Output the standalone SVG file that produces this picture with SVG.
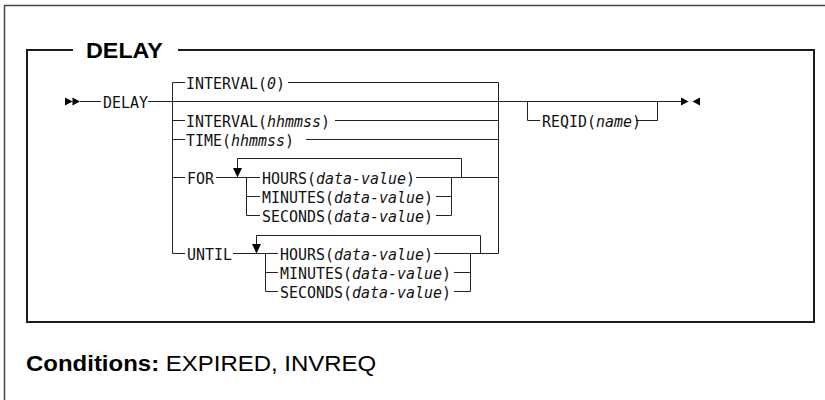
<svg xmlns="http://www.w3.org/2000/svg" width="825" height="400" viewBox="0 0 825 400">
<style>
.frame{fill:none;stroke:#444;stroke-width:1.5}
.inner{fill:none;stroke:#1a1a1a;stroke-width:2}
.ln{fill:none;stroke:#222;stroke-width:1}
.ah{fill:#000;stroke:none}
.t{font-family:"DejaVu Sans Mono","Liberation Mono",monospace;font-size:16px;fill:#111}
.i{font-style:italic}
.title{font-family:"Liberation Sans",Arial,sans-serif;font-size:22px;font-weight:bold;fill:#000}
.cond{font-family:"Liberation Sans",Arial,sans-serif;font-size:22px;fill:#000}
</style>
<rect x="0" y="0" width="825" height="400" fill="#fff"/>
<rect class="frame" x="4.5" y="5.5" width="830" height="410"/>
<path class="inner" d="M73,50 H27 V322 H814 V50 H178"/>
<text class="title" transform="translate(86,58) scale(1.06,1)">DELAY</text>

<g id="connectors">
<path class="ln" d="M80,101.5 H101 M148,101.5 H681"/>
<path class="ln" d="M185,82.5 H172.5 V253.5 H185 M172.5,120.5 H185 M172.5,139.5 H185 M172.5,177.5 H185"/>
<path class="ln" d="M288,82.5 H498.5 V253.5 H480.5 M335,120.5 H498.5 M306,139.5 H498.5 M461.5,177.5 H498.5"/>
<path class="ln" d="M216,177.5 H260 M246.5,177.5 V215.5 H260 M246.5,196.5 H260 M416,177.5 H461.5 V158.5 H237.5 V170 M436,196.5 H451.5 M436,215.5 H451.5 V177.5"/>
<path class="ln" d="M233,253.5 H278 M265.5,253.5 V291.5 H278 M265.5,272.5 H278 M434,253.5 H480.5 V235.5 H256.5 V246 M454,272.5 H470.5 M454,291.5 H470.5 V253.5"/>
<path class="ln" d="M527.5,101.5 V120.5 H540 M636,120.5 H657.5 V101.5"/>
<path class="ah" d="M65,97.5 L72.5,101.5 L65,105.5 Z M72.5,97.5 L80,101.5 L72.5,105.5 Z"/>
<path class="ah" d="M681,97.5 L688.5,101.5 L681,105.5 Z M700,97.5 L692.5,101.5 L700,105.5 Z"/>
<path class="ah" d="M233,168 L242,168 L237.5,177.5 Z M252,244 L261,244 L256.5,253.5 Z"/>
</g>

<g id="n-delay"><text class="t" transform="translate(103,107.5) scale(0.935,1)">DELAY</text></g>
<g id="n-interval0"><text class="t" transform="translate(186,88.5) scale(0.935,1)">INTERVAL(<tspan class="i">0</tspan>)</text></g>
<g id="n-interval"><text class="t" transform="translate(186,126.5) scale(0.935,1)">INTERVAL(<tspan class="i">hhmmss</tspan>)</text></g>
<g id="n-time"><text class="t" transform="translate(186,145.5) scale(0.935,1)">TIME(<tspan class="i">hhmmss</tspan>)</text></g>
<g id="n-for"><text class="t" transform="translate(187,183.5) scale(0.935,1)">FOR</text></g>
<g id="n-for-hours"><text class="t" transform="translate(262,183.5) scale(0.935,1)">HOURS(<tspan class="i">data-value</tspan>)</text></g>
<g id="n-for-minutes"><text class="t" transform="translate(262,202.5) scale(0.935,1)">MINUTES(<tspan class="i">data-value</tspan>)</text></g>
<g id="n-for-seconds"><text class="t" transform="translate(262,221.5) scale(0.935,1)">SECONDS(<tspan class="i">data-value</tspan>)</text></g>
<g id="n-until"><text class="t" transform="translate(187,259.5) scale(0.935,1)">UNTIL</text></g>
<g id="n-until-hours"><text class="t" transform="translate(280,259.5) scale(0.935,1)">HOURS(<tspan class="i">data-value</tspan>)</text></g>
<g id="n-until-minutes"><text class="t" transform="translate(280,278.5) scale(0.935,1)">MINUTES(<tspan class="i">data-value</tspan>)</text></g>
<g id="n-until-seconds"><text class="t" transform="translate(280,297.5) scale(0.935,1)">SECONDS(<tspan class="i">data-value</tspan>)</text></g>
<g id="n-reqid"><text class="t" transform="translate(542,126.5) scale(0.935,1)">REQID(<tspan class="i">name</tspan>)</text></g>

<text class="cond" transform="translate(26,371) scale(1.09,1)"><tspan font-weight="bold">Conditions:</tspan> EXPIRED, INVREQ</text>
</svg>
